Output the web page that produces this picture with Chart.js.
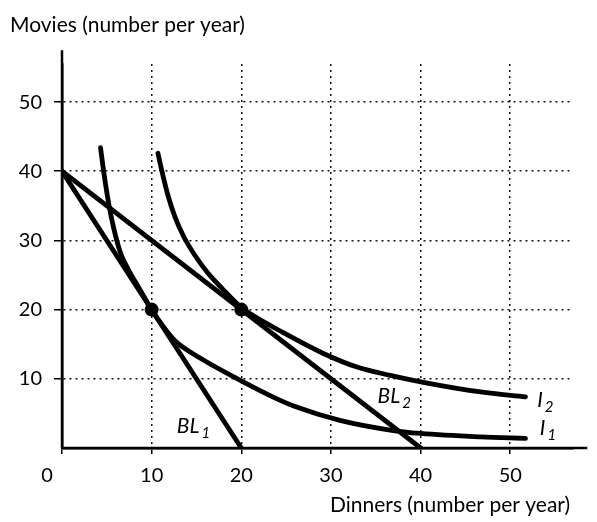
<!DOCTYPE html>
<html>
<head>
<meta charset="utf-8">
<script src="https://cdn.jsdelivr.net/npm/chart.js@4.4.1/dist/chart.umd.min.js"></script>
<style>
  html, body { margin: 0; padding: 0; background: #fff; }
  #wrap { width: 597px; height: 522px; }
</style>
</head>
<body>
<div id="wrap"><canvas id="myChart"></canvas></div>
<script>
// tick labels
var xTicks = [0, 10, 20, 30, 40, 50];
var yTicks = [10, 20, 30, 40, 50];

// budget lines
var bl1X = [0, 20];
var bl1Y = [40, 0];
var bl2X = [0, 40];
var bl2Y = [40, 0];

// indifference curves
var i1X = [4.3, 4.7, 5.2, 5.8, 6.5, 7.4, 8.6, 10, 11.2, 12.6, 15.4, 20, 23.5, 26, 31, 36.6, 40, 46.7, 51.7];
var i1Y = [43.4, 39.5, 35.4, 31.6, 28.3, 25.8, 23.1, 20, 17.7, 15.5, 13.0, 9.7, 7.4, 6.0, 4.0, 2.6, 2.1, 1.6, 1.4];
var i2X = [10.7, 11.2, 11.8, 12.6, 13.6, 14.8, 16.2, 17.9, 20, 21, 24.5, 29.1, 32.9, 36.6, 40.3, 46.7, 51.7];
var i2Y = [42.6, 39.7, 36.6, 33.4, 30.5, 27.9, 25.4, 23.0, 20.3, 19.4, 16.8, 13.7, 11.7, 10.5, 9.5, 8.1, 7.4];

// best affordable points
var tangentX = [10, 20];
var tangentY = [20, 20];

function toPoints(xs, ys) {
    return xs.map(function (x, k) { return { x: x, y: ys[k] }; });
}

var FONT = 'Lato, "Open Sans", sans-serif';

function lineSet(xs, ys, curved) {
    return {
        data: toPoints(xs, ys),
        showLine: true,
        borderColor: '#000',
        borderWidth: 4.8,
        pointRadius: 0,
        borderCapStyle: 'round',
        cubicInterpolationMode: curved ? 'monotone' : 'default',
        tension: 0
    };
}

// text and axis extensions that the library does not place by itself
var extras = {
    id: 'extras',
    afterDraw: function (chart) {
        var ctx = chart.ctx;
        var xs = chart.scales.x, ys = chart.scales.y;
        ctx.save();
        ctx.strokeStyle = '#000';
        ctx.lineWidth = 2.5;
        ctx.beginPath();
        ctx.moveTo(xs.getPixelForValue(0), ys.getPixelForValue(0));
        ctx.lineTo(xs.getPixelForValue(58.6), ys.getPixelForValue(0));
        ctx.moveTo(xs.getPixelForValue(0), ys.getPixelForValue(0));
        ctx.lineTo(xs.getPixelForValue(0), ys.getPixelForValue(57.5));
        ctx.stroke();

        ctx.fillStyle = '#000';
        ctx.textBaseline = 'alphabetic';
        ctx.textAlign = 'left';
        ctx.font = '21px ' + FONT;
        ctx.fillText('Movies (number per year)', 10, 32, 277);
        ctx.fillText('Dinners (number per year)', 330, 512, 263);

        ctx.font = '20px ' + FONT;
        ctx.textAlign = 'center';
        ctx.fillText('0', xs.getPixelForValue(0) - 15, 482);

        // curve labels with subscripts
        var labels = [
            ['BL', '1', 12.8, 2.2],
            ['BL', '2', 35.2, 6.5],
            ['I', '2', 53.0, 5.9],
            ['I', '1', 53.3, 1.9]
        ];
        ctx.textAlign = 'left';
        labels.forEach(function (l) {
            var px = xs.getPixelForValue(l[2]);
            var py = ys.getPixelForValue(l[3]);
            ctx.font = 'italic 21px ' + FONT;
            ctx.fillText(l[0], px, py);
            var w = ctx.measureText(l[0]).width;
            ctx.font = 'italic 15px ' + FONT;
            ctx.fillText(l[1], px + w + 2, py + 5);
        });
        ctx.restore();
    }
};

new Chart(document.getElementById('myChart').getContext('2d'), {
    type: 'scatter',
    data: {
        datasets: [
            lineSet(bl1X, bl1Y, false),
            lineSet(bl2X, bl2Y, false),
            lineSet(i1X, i1Y, true),
            lineSet(i2X, i2Y, true),
            {
                data: toPoints(tangentX, tangentY),
                showLine: false,
                pointRadius: 7,
                pointBackgroundColor: '#000',
                pointBorderWidth: 0
            }
        ]
    },
    options: {
        responsive: true,
        maintainAspectRatio: false,
        animation: false,
        layout: { padding: { top: 64, right: 24, bottom: 0, left: 0 } },
        plugins: {
            legend: { display: false },
            tooltip: { enabled: false }
        },
        scales: {
            x: {
                type: 'linear',
                min: 0,
                max: 57,
                afterBuildTicks: function (scale) {
                    scale.ticks = xTicks.map(function (v) { return { value: v }; });
                },
                afterFit: function (scale) { scale.height = 74; },
                ticks: {
                    color: '#000',
                    font: { family: FONT, size: 20 },
                    padding: 10,
                    maxRotation: 0,
                    callback: function (v) { return v === 0 ? '' : String(v); }
                },
                grid: {
                    color: '#111',
                    lineWidth: 1.5,
                    tickLength: 6,
                    tickColor: '#000'
                },
                border: { display: true, color: '#000', width: 2.5, dash: [2, 4] }
            },
            y: {
                type: 'linear',
                min: 0,
                max: 55.5,
                afterBuildTicks: function (scale) {
                    scale.ticks = yTicks.map(function (v) { return { value: v }; });
                },
                afterFit: function (scale) { scale.width = 62; },
                ticks: {
                    color: '#000',
                    font: { family: FONT, size: 20 },
                    padding: 12
                },
                grid: {
                    color: '#111',
                    lineWidth: 1.5,
                    tickLength: 8,
                    tickColor: '#000'
                },
                border: { display: true, color: '#000', width: 2.5, dash: [2, 4] }
            }
        }
    },
    plugins: [extras]
});
</script>
</body>
</html>
